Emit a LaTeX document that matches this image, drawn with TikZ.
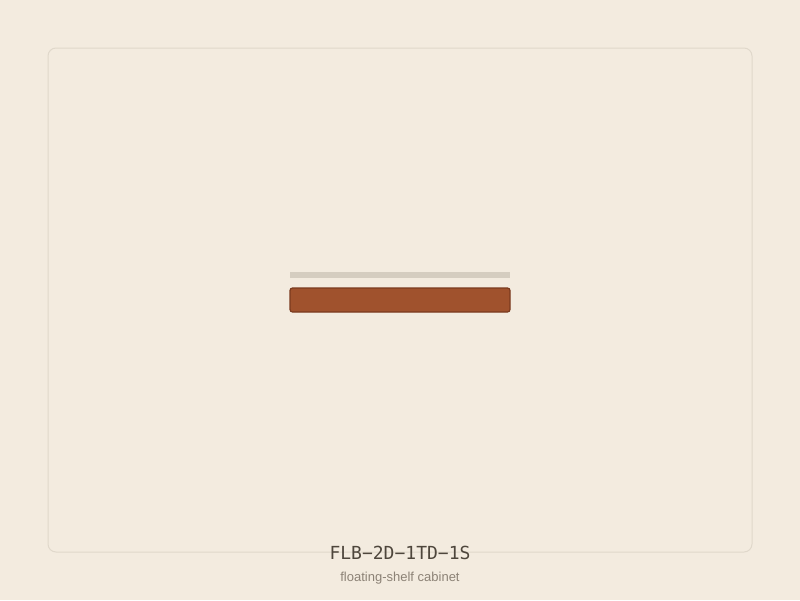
\documentclass[tikz,border=0pt]{standalone}
\usepackage{fontspec}
\setmainfont{Liberation Sans}
\setmonofont{DejaVu Sans Mono}
\usepackage{xcolor}
\definecolor{paper}{HTML}{F3EBDF}
\definecolor{frameline}{HTML}{E0D8CB}
\definecolor{shelfgrey}{HTML}{D5CDC0}
\definecolor{cabinet}{HTML}{A0522D}
\definecolor{cabinetedge}{HTML}{7A3A1E}
\definecolor{codeink}{HTML}{4E463C}
\definecolor{noteink}{HTML}{8C8276}

\begin{document}
\begin{tikzpicture}[x=1pt,y=-1pt]
  \fill[paper] (0,0) rectangle (800,600);
  \useasboundingbox (0,0) rectangle (800,600);
  \draw[frameline,line width=1pt,rounded corners=8pt] (48,48) rectangle (752,552);
  \fill[shelfgrey] (290,272) rectangle (510,278);
  \draw[cabinetedge,fill=cabinet,line width=1.2pt,rounded corners=2.5pt] (290,288) rectangle (510,312);
  \node[text=codeink,font=\ttfamily\fontsize{18}{20}\selectfont] (code) at (400,553) {FLB−2D−1TD−1S};
  \node[text=noteink,font=\fontsize{13}{15}\selectfont] (note) at (400,578.5) {floating-shelf cabinet};
\end{tikzpicture}
\end{document}
